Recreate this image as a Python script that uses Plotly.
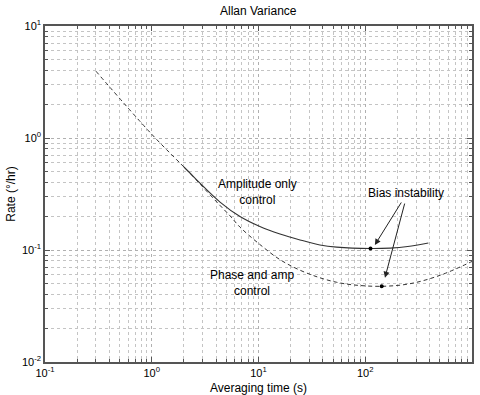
import numpy as np
import plotly.graph_objects as go

# ---- data ----
dashed_x = [0.3, 1.0, 2.28, 3.27, 4.36, 5.41, 6.71, 10.3, 15.9, 24.5, 37.6, 54, 77.3, 142.6, 262, 501, 1000]
dashed_y = [3.95, 1.08, 0.485, 0.335, 0.25, 0.202, 0.160, 0.112, 0.082, 0.066, 0.0565, 0.0515, 0.0488, 0.0474, 0.0500, 0.0594, 0.0790]

solid_x = [2.0, 2.28, 2.83, 4.36, 6.71, 10.3, 15.9, 24.5, 37.6, 54, 112, 171, 250, 390]
solid_y = [0.551, 0.487, 0.395, 0.268, 0.199, 0.162, 0.139, 0.123, 0.111, 0.106, 0.103, 0.104, 0.1075, 0.1155]

bias_x = [112, 142.6]
bias_y = [0.103, 0.0474]

x_decades = [-1, 0, 1, 2, 3]
y_decades = [-2, -1, 0, 1]

title_text = "Allan Variance"
x_label = "Averaging time (s)"
y_label = "Rate (°/hr)"

# annotations (data coords)
amp_label = ("Amplitude only<br>control", 9.69, 0.33)
phase_label = ("Phase and amp<br>control", 8.69, 0.0507)
bias_label = ("Bias instability", 241, 0.323)
arrows = [((222, 0.274), (123, 0.111)), ((236, 0.268), (153, 0.0566))]


def major_ticks(decades):
    return [10.0 ** d for d in decades], [f"10<sup>{d}</sup>" for d in decades]


def minor_ticks(decades):
    return [m * 10.0 ** d for d in decades[:-1] for m in range(2, 10)]


FONT = "Liberation Sans, Arial, sans-serif"
LINE = "#333333"

fig = go.Figure()
fig.add_trace(go.Scatter(x=dashed_x, y=dashed_y, mode="lines",
                         line=dict(color=LINE, width=1, dash="4px,3px", shape="spline", smoothing=1.0),
                         showlegend=False, hoverinfo="skip"))
fig.add_trace(go.Scatter(x=solid_x, y=solid_y, mode="lines",
                         line=dict(color=LINE, width=1.1, shape="spline", smoothing=1.0),
                         showlegend=False, hoverinfo="skip"))
fig.add_trace(go.Scatter(x=bias_x, y=bias_y, mode="markers",
                         marker=dict(color="black", size=4),
                         showlegend=False, hoverinfo="skip"))

annos = []
for text, x, y in [amp_label, phase_label, bias_label]:
    annos.append(dict(x=np.log10(x), y=np.log10(y), xref="x", yref="y", text=text,
                      showarrow=False, font=dict(family=FONT, size=12, color="black"),
                      align="center"))
for (tx, ty), (hx, hy) in arrows:
    annos.append(dict(x=np.log10(hx), y=np.log10(hy), ax=np.log10(tx), ay=np.log10(ty),
                      xref="x", yref="y", axref="x", ayref="y", text="",
                      showarrow=True, arrowhead=2, arrowsize=1.2, arrowwidth=1,
                      arrowcolor="#222222"))

axis_common = dict(
    type="log", automargin=False,
    showgrid=True, gridcolor="#b0b0b0", griddash="dot", gridwidth=1,
    ticks="inside", ticklen=5, tickcolor="#555555",
    showline=True, linecolor="#555555", linewidth=1.5, mirror="ticks",
    zeroline=False, tickfont=dict(family=FONT, size=11, color="black"),
    title_font=dict(family=FONT, size=12, color="black"),
)
minor_common = dict(ticks="inside", ticklen=3, tickcolor="#555555",
                    showgrid=True, gridcolor="#c4c4c4", griddash="dot", gridwidth=1)

xv, xt = major_ticks(x_decades)
yv, yt = major_ticks(y_decades)

fig.update_layout(
    width=480, height=395,
    margin=dict(l=45, r=8, t=26, b=33),
    paper_bgcolor="white", plot_bgcolor="white",
    title=dict(text=title_text, x=0.538, xanchor="center", y=0.972, yanchor="middle",
               font=dict(family=FONT, size=12, color="black")),
    xaxis=dict(axis_common, range=[-1, 3], tickmode="array", tickvals=xv, ticktext=xt,
               minor=dict(minor_common, tickmode="array", tickvals=minor_ticks(x_decades)),
               title=dict(text=x_label, standoff=8)),
    yaxis=dict(axis_common, range=[-2, 1], tickmode="array", tickvals=yv, ticktext=yt,
               minor=dict(minor_common, tickmode="array", tickvals=minor_ticks(y_decades)),
               title=dict(text=y_label, standoff=4)),
    annotations=annos,
)

fig.write_html("out.html", config={"displayModeBar": False},
               post_script="document.body.style.margin='0';")
